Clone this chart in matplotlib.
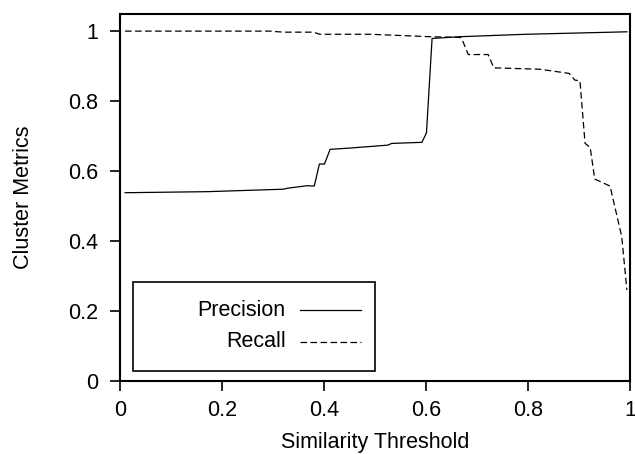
import matplotlib
matplotlib.use("Agg")
import matplotlib.pyplot as plt
from matplotlib.patches import Rectangle

# values
precision_x = [0.01, 0.171, 0.320, 0.329, 0.367, 0.381, 0.391, 0.401, 0.412,
               0.454, 0.525, 0.533, 0.592, 0.601, 0.612, 0.667, 0.797, 0.994]
precision_y = [0.538, 0.541, 0.548, 0.551, 0.558, 0.557, 0.620, 0.620, 0.662,
               0.666, 0.674, 0.679, 0.682, 0.709, 0.979, 0.984, 0.991, 0.998]

recall_x = [0.01, 0.294, 0.320, 0.379, 0.392, 0.490, 0.608, 0.667, 0.670,
            0.683, 0.722, 0.733, 0.824, 0.881, 0.892, 0.902, 0.912, 0.922,
            0.931, 0.961, 0.984, 0.994]
recall_y = [1.0, 1.0, 0.997, 0.997, 0.991, 0.991, 0.984, 0.982, 0.979,
            0.933, 0.933, 0.895, 0.891, 0.879, 0.860, 0.858, 0.679, 0.668,
            0.577, 0.557, 0.412, 0.260]

x_ticks = [0, 0.2, 0.4, 0.6, 0.8, 1]
x_ticklabels = ["0", "0.2", "0.4", "0.6", "0.8", "1"]
y_ticks = [0, 0.2, 0.4, 0.6, 0.8, 1]
y_ticklabels = ["0", "0.2", "0.4", "0.6", "0.8", "1"]

plt.rcParams['font.family'] = ['Liberation Sans', 'DejaVu Sans']
plt.rcParams['font.size'] = 15.5

fig = plt.figure(figsize=(6.35, 4.54), dpi=100)
ax = fig.add_axes([0.189, 0.161, 0.803, 0.809])

dash = (5.2, 2.8)
ax.plot(precision_x, precision_y, color='black', lw=0.9, solid_joinstyle='miter')
ax.plot(recall_x, recall_y, color='black', lw=0.9, dashes=dash)

ax.set_xlim(0, 1)
ax.set_ylim(0, 1.05)
ax.set_xticks(x_ticks)
ax.set_xticklabels(x_ticklabels)
ax.set_yticks(y_ticks)
ax.set_yticklabels(y_ticklabels)
ax.tick_params(direction='out', length=7, width=1.2)
ax.tick_params(axis='x', pad=7)
ax.tick_params(axis='y', pad=9)
for s in ax.spines.values():
    s.set_linewidth(1.5)

ax.set_xlabel("Similarity Threshold", labelpad=8)
ax.set_ylabel("Cluster Metrics", labelpad=24)

# gnuplot style key box, text right aligned then sample line
ax.add_patch(Rectangle((0.025, 0.027), 0.475, 0.242, transform=ax.transAxes,
                       fill=False, lw=1.2, edgecolor='black', zorder=3))
ax.text(0.325, 0.193, "Precision", transform=ax.transAxes, ha='right', va='center')
ax.plot([0.353, 0.472], [0.193, 0.193], transform=ax.transAxes, color='black', lw=0.9)
ax.text(0.325, 0.106, "Recall", transform=ax.transAxes, ha='right', va='center')
ax.plot([0.353, 0.472], [0.106, 0.106], transform=ax.transAxes, color='black', lw=0.9,
        dashes=dash)

fig.savefig("out.png", dpi=100)
